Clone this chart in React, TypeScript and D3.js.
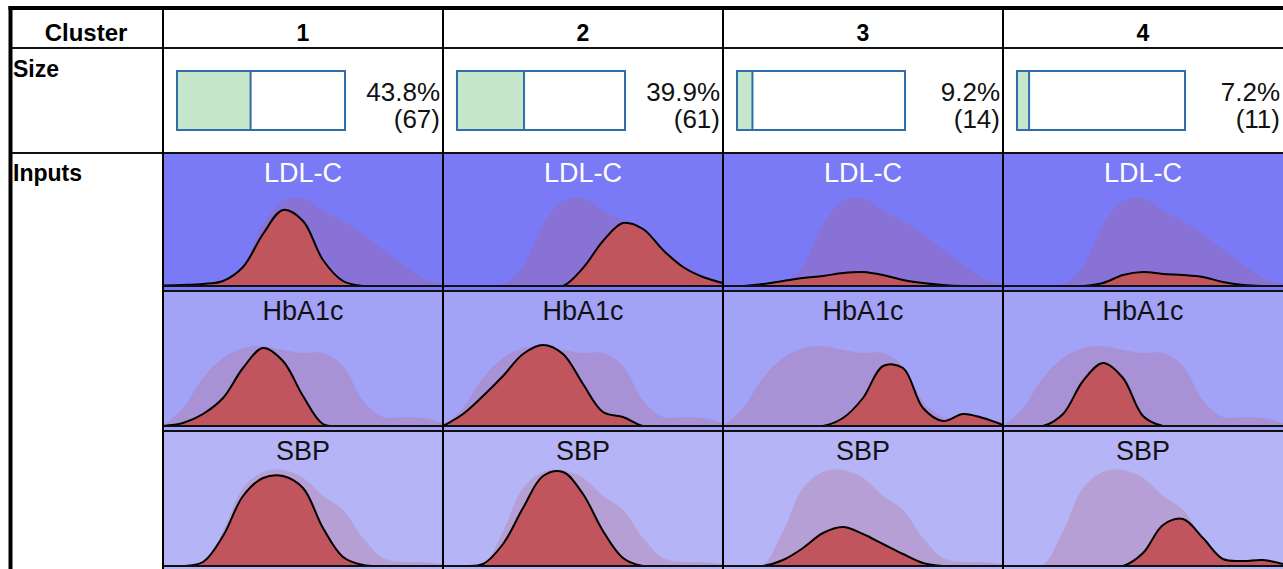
import React from 'react';
import * as d3 from 'd3';

// cluster table values
const clusters = ['1', '2', '3', '4'];
const sizePct = [43.8, 39.9, 9.2, 7.2];
const sizeN = [67, 61, 14, 11];
const inputs = ['LDL-C', 'HbA1c', 'SBP'];

// densities sampled on an even grid across each cell
const grid = [0, 1, 2, 3, 4, 5, 6, 7, 8, 9, 10, 11, 12, 13, 14];

const ldlAll = [0, 0, 0, 2, 20, 62, 85, 88, 75, 65, 52, 36, 22, 8, 2];
const ldlCluster = [
  [0.5, 1, 2, 5, 19, 52, 76, 65, 26, 5, 0, 0, 0, 0, 0],
  [0, 0, 0, 0, 0, 0, 0, 18, 45, 63, 57, 36, 19, 9, 3],
  [0, 0, 2, 5, 8, 10, 13, 14, 11, 6, 3, 1, 0, 0, 0],
  [0, 0, 0, 0, 0, 3, 11, 14, 12, 11, 9, 4, 1, 0, 0],
];

const hbaAll = [0, 18, 48, 68, 78, 80, 76, 73, 73, 60, 25, 9, 9, 8, 3];
const hbaCluster = [
  [0, 3, 12, 28, 58, 78, 65, 30, 2, 0, 0, 0, 0, 0, 0],
  [0, 12, 30, 50, 72, 81, 72, 42, 14, 9, 0, 0, 0, 0, 0],
  [0, 0, 0, 0, 0, 0, 8, 28, 60, 58, 18, 5, 12, 8, 1],
  [0, 0, 0, 12, 45, 63, 48, 10, 0, 0, 0, 0, 0, 0, 0],
];

const sbpAll = [0, 0, 1, 35, 78, 94, 96, 88, 70, 56, 28, 8, 4, 4, 2];
const sbpCluster = [
  [0, 0, 4, 30, 70, 88, 90, 78, 38, 9, 1, 0, 0, 0, 0],
  [0, 0, 2, 22, 58, 90, 94, 72, 35, 8, 0, 0, 0, 0, 0],
  [0, 0, 0, 6, 18, 33, 39, 32, 22, 12, 3, 0, 0, 0, 0],
  [0, 0, 0, 0, 0, 0, 0, 13, 41, 47, 28, 7, 5, 6, 2],
];

const allDens = [ldlAll, hbaAll, sbpAll];
const clusterDens = [ldlCluster, hbaCluster, sbpCluster];
const panelBg = ['#7a7af6', '#a2a2f7', '#b4b4f6'];
const titleColor = ['#ffffff', '#111111', '#111111'];

const W = 1283;
const H = 569;
const panelTops = [153, 291, 431];
const panelBottoms = [291, 431, 571];

export default function App() {
  const col = d3.scaleBand<string>().domain(clusters).range([163, 1283]);
  const bw = col.bandwidth();
  const red = '#c0555e';
  const curve = d3.curveCatmullRom.alpha(0.5);

  const cells: React.ReactNode[] = [];
  const clips: React.ReactNode[] = [];

  inputs.forEach((name, r) => {
    const top = panelTops[r];
    const base = panelBottoms[r] - 5;
    const y = d3.scaleLinear().domain([0, 100]).range([base, base - 100]);
    clusters.forEach((c, ci) => {
      const x0 = col(c)!;
      const id = `clip-${r}-${ci}`;
      clips.push(
        <clipPath id={id} key={id}>
          <rect x={x0} y={top} width={bw} height={base - top} />
        </clipPath>
      );
      const xs = d3.scaleLinear().domain([0, grid.length - 1]).range([x0, x0 + bw]);
      const area = d3
        .area<number>()
        .x((_, i) => xs(grid[i]))
        .y0(base)
        .y1((d) => y(d))
        .curve(curve);
      const line = d3
        .line<number>()
        .x((_, i) => xs(grid[i]))
        .y((d) => y(d))
        .curve(curve);
      cells.push(
        <g key={`${r}-${ci}`}>
          <rect x={x0} y={top} width={bw} height={panelBottoms[r] - top} fill={panelBg[r]} />
          <g clipPath={`url(#${id})`}>
            <path d={area(allDens[r])!} fill={red} fillOpacity={0.22} />
            <path d={area(clusterDens[r][ci])!} fill={red} />
            <path d={line(clusterDens[r][ci])!} fill="none" stroke="#000" strokeWidth={2} />
          </g>
          <line x1={x0} x2={x0 + bw} y1={base} y2={base} stroke="#111" strokeWidth={2} />
          <text
            x={x0 + bw / 2}
            y={top + 29}
            textAnchor="middle"
            fontSize={27}
            fill={titleColor[r]}
          >
            {name}
          </text>
        </g>
      );
    });
  });

  const sizeBars = clusters.map((c, ci) => {
    const x0 = col(c)!;
    const bx = d3.scaleLinear().domain([0, 100]).range([x0 + 14, x0 + 182]);
    return (
      <g key={c}>
        <rect x={bx(0)} y={71} width={bx(100) - bx(0)} height={59} fill="#fff" stroke="#2f6ea8" strokeWidth={2} />
        <rect x={bx(0)} y={71} width={bx(sizePct[ci]) - bx(0)} height={59} fill="#c6e7cc" stroke="#2f6ea8" strokeWidth={2} />
        <text x={x0 + bw - 3} y={101} textAnchor="end" fontSize={26} fill="#111">
          {sizePct[ci].toFixed(1)}%
        </text>
        <text x={x0 + bw - 3} y={128} textAnchor="end" fontSize={26} fill="#111">
          ({sizeN[ci]})
        </text>
        <text x={x0 + bw / 2} y={41} textAnchor="middle" fontSize={23} fontWeight="bold" fill="#000">
          {c}
        </text>
      </g>
    );
  });

  const colLines = clusters.map((c) => (
    <line key={c} x1={col(c)!} x2={col(c)!} y1={8} y2={H} stroke="#000" strokeWidth={2} />
  ));

  const rowLines = [48, 153, 291, 431].map((yy, i) => (
    <line key={i} x1={i < 2 ? 10 : 163} x2={W} y1={yy} y2={yy} stroke="#111" strokeWidth={2} />
  ));

  return (
    <svg
      width={W}
      height={H}
      style={{ position: 'absolute', left: 0, top: 0, background: '#fff' }}
      fontFamily="'Liberation Sans', Arial, sans-serif"
    >
      <defs>{clips}</defs>
      <rect x={0} y={0} width={W} height={H} fill="#fff" />
      {cells}
      {sizeBars}
      {rowLines}
      {colLines}
      <line x1={10.5} x2={10.5} y1={6} y2={H} stroke="#000" strokeWidth={4} />
      <line x1={8.5} x2={W} y1={8} y2={8} stroke="#000" strokeWidth={4} />
      <text x={86} y={41} textAnchor="middle" fontSize={24} fontWeight="bold">
        Cluster
      </text>
      <text x={13} y={77} fontSize={23} fontWeight="bold">
        Size
      </text>
      <text x={13} y={181} fontSize={23} fontWeight="bold">
        Inputs
      </text>
    </svg>
  );
}
